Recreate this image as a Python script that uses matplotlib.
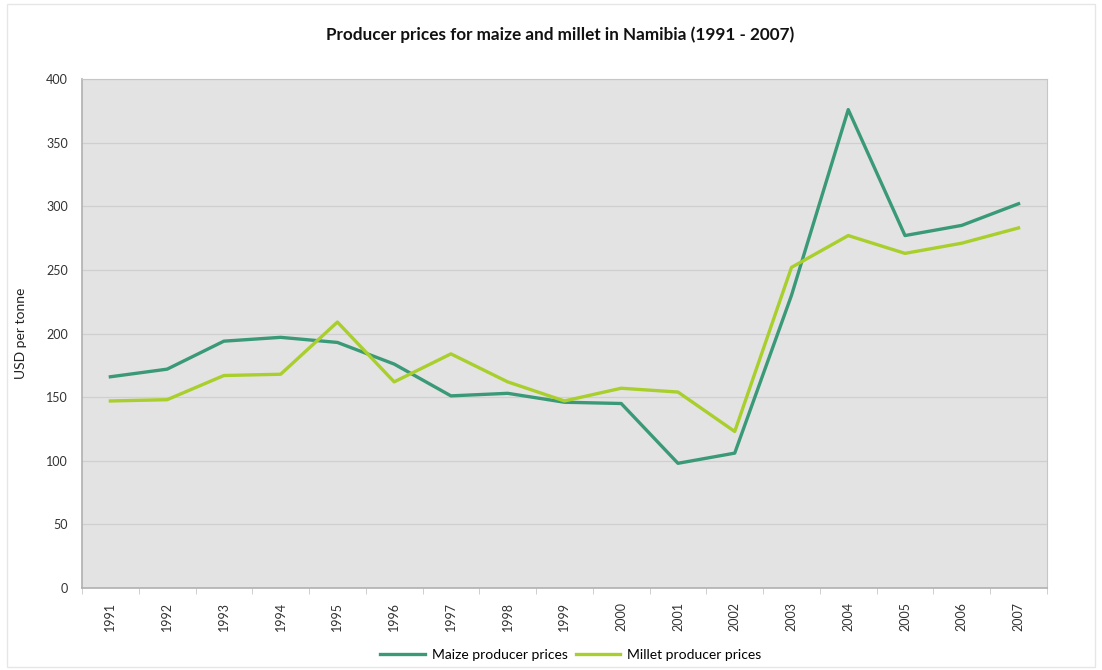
import matplotlib
matplotlib.use("Agg")
import matplotlib.pyplot as plt
import numpy as np

plt.rcParams['font.family'] = ['Lato', 'DejaVu Sans']

# data
years = ['1991', '1992', '1993', '1994', '1995', '1996', '1997', '1998', '1999',
         '2000', '2001', '2002', '2003', '2004', '2005', '2006', '2007']
maize = [166, 172, 194, 197, 193, 176, 151, 153, 146,
         145, 98, 106, 230, 376, 277, 285, 302]
millet = [147, 148, 167, 168, 209, 162, 184, 162, 147,
          157, 154, 123, 252, 277, 263, 271, 283]

maize_col = '#3a9a78'
millet_col = '#a9cf2c'

fig = plt.figure(figsize=(11.02, 6.70), dpi=100)
ax = fig.add_axes([0.0744, 0.1224, 0.8756, 0.7596])
ax.set_facecolor('#e3e3e3')

x = np.arange(len(years))
ax.plot(x, maize, color=maize_col, lw=2.4, label='Maize producer prices')
ax.plot(x, millet, color=millet_col, lw=2.4, label='Millet producer prices')

ax.set_xlim(-0.5, len(years) - 0.5)
ax.set_ylim(0, 400)
ax.set_yticks(range(0, 401, 50))
ax.yaxis.grid(True, color='#cfcfcf', lw=0.9)
ax.set_axisbelow(True)

ax.set_xticks(x)
ax.set_xticklabels(years, rotation=90, fontsize=9, color='#333333')
ax.set_xticks(np.arange(-0.5, len(years)), minor=True)
ax.tick_params(axis='x', which='major', length=0, pad=10)
ax.tick_params(axis='x', which='minor', length=4, color='#c8c8c8')
ax.tick_params(axis='y', length=0, labelsize=9, labelcolor='#333333', pad=10)

for s in ['left', 'bottom']:
    ax.spines[s].set_color('#b0b0b0')
    ax.spines[s].set_linewidth(1.2)
ax.spines['top'].set_color('#c6c6c6')
ax.spines['right'].set_color('#c6c6c6')

ax.set_ylabel('USD per tonne', fontsize=10, color='#222222', labelpad=14)

fig.suptitle('Producer prices for maize and millet in Namibia (1991 - 2007)',
             x=0.508, y=0.960, fontsize=12.3, fontweight='bold', color='#111111')

fig.legend(loc='center', bbox_to_anchor=(0.518, 0.022), ncol=2, frameon=False,
           fontsize=10, handlelength=3.2, columnspacing=0.6, handletextpad=0.5)

# thin frame around the whole chart
fig.patches.append(plt.Rectangle((0.006, 0.004), 0.988, 0.99, transform=fig.transFigure,
                                 fill=False, ec='#e6e6e6', lw=1))

fig.savefig('out.png', dpi=100)
